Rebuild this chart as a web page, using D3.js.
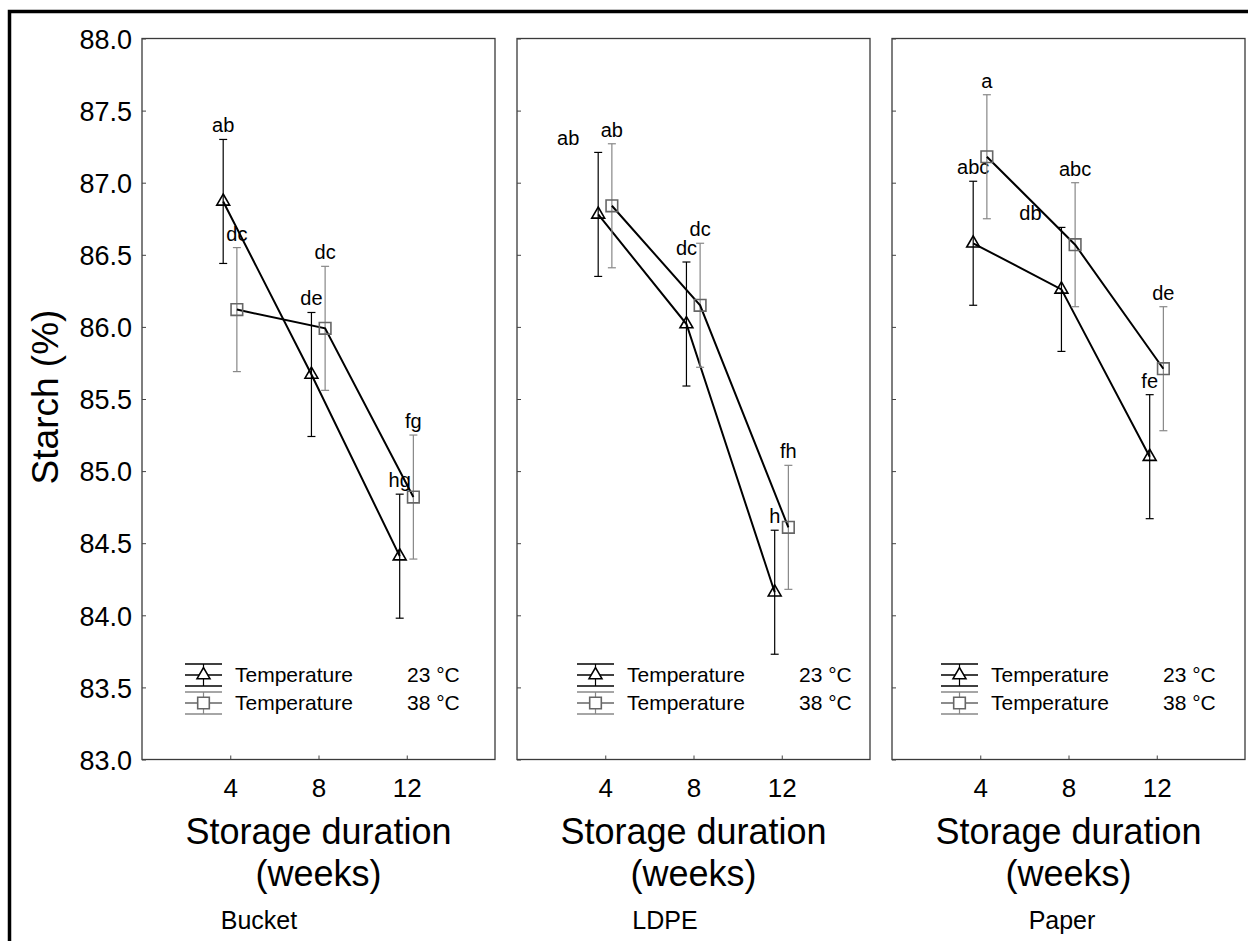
<!DOCTYPE html>
<html>
<head>
<meta charset="utf-8">
<script src="https://cdn.jsdelivr.net/npm/d3@7"></script>
<style>
body { margin: 0; background: #fff; }
text { font-family: "Liberation Sans", Arial, sans-serif; fill: #000; }
</style>
</head>
<body>
<script>
// data
var weeks = [4, 8, 12];
var packages = ["Bucket", "LDPE", "Paper"];
var tempLabels = ["23 °C", "38 °C"];
var yTicks = [83.0, 83.5, 84.0, 84.5, 85.0, 85.5, 86.0, 86.5, 87.0, 87.5, 88.0];

// mean starch (%) per package, per week
var mean23 = [[86.87, 85.67, 84.41], [86.78, 86.02, 84.16], [86.58, 86.26, 85.10]];
var mean38 = [[86.12, 85.99, 84.82], [86.84, 86.15, 84.61], [87.18, 86.57, 85.71]];
var err23 = [[0.43, 0.43, 0.43], [0.43, 0.43, 0.43], [0.43, 0.43, 0.43]];
var err38 = [[0.43, 0.43, 0.43], [0.43, 0.43, 0.43], [0.43, 0.43, 0.43]];
var letters23 = [["ab", "de", "hg"], ["ab", "dc", "h"], ["abc", "db", "fe"]];
var letters38 = [["dc", "dc", "fg"], ["ab", "dc", "fh"], ["a", "abc", "de"]];

// layout
var W = 1248, H = 941;
var panelLeft = [142, 517, 892], panelW = 353;
var legendLeft = [185, 577, 941];
var nameX = [259, 665, 1062];
// a few letter labels were moved aside in the original
var nudge = { "1-0-4": [-30, 0], "2-0-8": [-31, 0] };

var svg = d3.select("body").append("svg")
  .attr("width", W).attr("height", H);

svg.append("rect").attr("width", W).attr("height", H).attr("fill", "#fff");

// outer frame (only top and left visible)
svg.append("path")
  .attr("d", "M9.5," + H + "V11.5H" + W)
  .attr("fill", "none").attr("stroke", "#000").attr("stroke-width", 3.5);

var y = d3.scaleLinear().domain([83, 88]).range([759.5, 38.5]);

var series = [
  { mean: mean23, err: err23, letters: letters23, off: -0.32, color: "#000", ecolor: "#000", sym: d3.symbolTriangle, size: 72 },
  { mean: mean38, err: err38, letters: letters38, off: 0.3, color: "#666", ecolor: "#888", sym: d3.symbolSquare, size: 135 }
];

packages.forEach(function (name, p) {
  var x = d3.scaleLinear().domain([0, 16]).range([panelLeft[p], panelLeft[p] + panelW]);
  var g = svg.append("g");

  g.append("rect")
    .attr("x", panelLeft[p]).attr("y", y(88))
    .attr("width", panelW).attr("height", y(83) - y(88))
    .attr("fill", "none").attr("stroke", "#3a3a3a").attr("stroke-width", 1.3);

  var ya = g.append("g")
    .attr("transform", "translate(" + panelLeft[p] + ",0)")
    .call(d3.axisLeft(y).tickValues(yTicks).tickSize(-4).tickPadding(10)
      .tickFormat(p === 0 ? d3.format(".1f") : ""));
  ya.select(".domain").remove();
  ya.selectAll("line").attr("stroke", "#444");
  ya.selectAll("text").style("font-size", "27px").attr("dy", "0.36em");

  var xa = g.append("g")
    .attr("transform", "translate(0," + y(83) + ")")
    .call(d3.axisBottom(x).tickValues(weeks).tickSize(-4).tickPadding(19));
  xa.select(".domain").remove();
  xa.selectAll("line").attr("stroke", "#444");
  xa.selectAll("text").style("font-size", "26px");

  var cx = panelLeft[p] + panelW / 2;
  g.append("text").attr("x", cx).attr("y", 844).attr("text-anchor", "middle")
    .style("font-size", "36px").text("Storage duration");
  g.append("text").attr("x", cx).attr("y", 886).attr("text-anchor", "middle")
    .style("font-size", "36px").text("(weeks)");
  g.append("text").attr("x", nameX[p]).attr("y", 929).attr("text-anchor", "middle")
    .style("font-size", "25px").text(name);

  series.forEach(function (s, k) {
    var pts = weeks.map(function (w, i) {
      return { w: w, px: x(w + s.off), m: s.mean[p][i], e: s.err[p][i], lab: s.letters[p][i] };
    });

    // error bars
    var eb = g.append("g").attr("stroke", s.ecolor).attr("stroke-width", 1.2);
    pts.forEach(function (d) {
      eb.append("line").attr("x1", d.px).attr("x2", d.px).attr("y1", y(d.m + d.e)).attr("y2", y(d.m - d.e));
      eb.append("line").attr("x1", d.px - 4).attr("x2", d.px + 4).attr("y1", y(d.m + d.e)).attr("y2", y(d.m + d.e));
      eb.append("line").attr("x1", d.px - 4).attr("x2", d.px + 4).attr("y1", y(d.m - d.e)).attr("y2", y(d.m - d.e));
    });

    g.append("path").datum(pts)
      .attr("fill", "none").attr("stroke", "#000").attr("stroke-width", 2)
      .attr("d", d3.line().x(function (d) { return d.px; }).y(function (d) { return y(d.m); }));

    g.selectAll(".m" + k).data(pts).enter().append("path")
      .attr("transform", function (d) { return "translate(" + d.px + "," + y(d.m) + ")"; })
      .attr("d", d3.symbol().type(s.sym).size(s.size))
      .attr("fill", "none").attr("stroke", s.color).attr("stroke-width", 1.6);

    pts.forEach(function (d) {
      var nd = nudge[p + "-" + k + "-" + d.w] || [0, 0];
      g.append("text")
        .attr("x", d.px + nd[0]).attr("y", y(d.m + d.e) - 7 + nd[1])
        .attr("text-anchor", "middle").style("font-size", "20px")
        .text(d.lab);
    });

    // legend row
    var ly = 675 + k * 28, lx = legendLeft[p];
    var lg = g.append("g");
    lg.append("line").attr("x1", lx).attr("x2", lx + 37).attr("y1", ly - 11).attr("y2", ly - 11).attr("stroke", s.ecolor).attr("stroke-width", 1.6);
    lg.append("line").attr("x1", lx).attr("x2", lx + 37).attr("y1", ly + 11).attr("y2", ly + 11).attr("stroke", s.ecolor).attr("stroke-width", 1.6);
    lg.append("line").attr("x1", lx).attr("x2", lx + 37).attr("y1", ly).attr("y2", ly).attr("stroke", s.color).attr("stroke-width", 1.6);
    lg.append("line").attr("x1", lx + 18.5).attr("x2", lx + 18.5).attr("y1", ly - 11).attr("y2", ly + 11).attr("stroke", s.ecolor).attr("stroke-width", 1.2);
    lg.append("path").attr("transform", "translate(" + (lx + 18.5) + "," + ly + ")")
      .attr("d", d3.symbol().type(s.sym).size(s.size))
      .attr("fill", "#fff").attr("stroke", s.color).attr("stroke-width", 1.6);
    lg.append("text").attr("x", lx + 50).attr("y", ly + 7).style("font-size", "21px").text("Temperature");
    lg.append("text").attr("x", lx + 222).attr("y", ly + 7).style("font-size", "21px").text(tempLabels[k]);
  });
});

svg.append("text")
  .attr("transform", "translate(58,397) rotate(-90)")
  .attr("text-anchor", "middle").style("font-size", "37px")
  .text("Starch (%)");
</script>
</body>
</html>
